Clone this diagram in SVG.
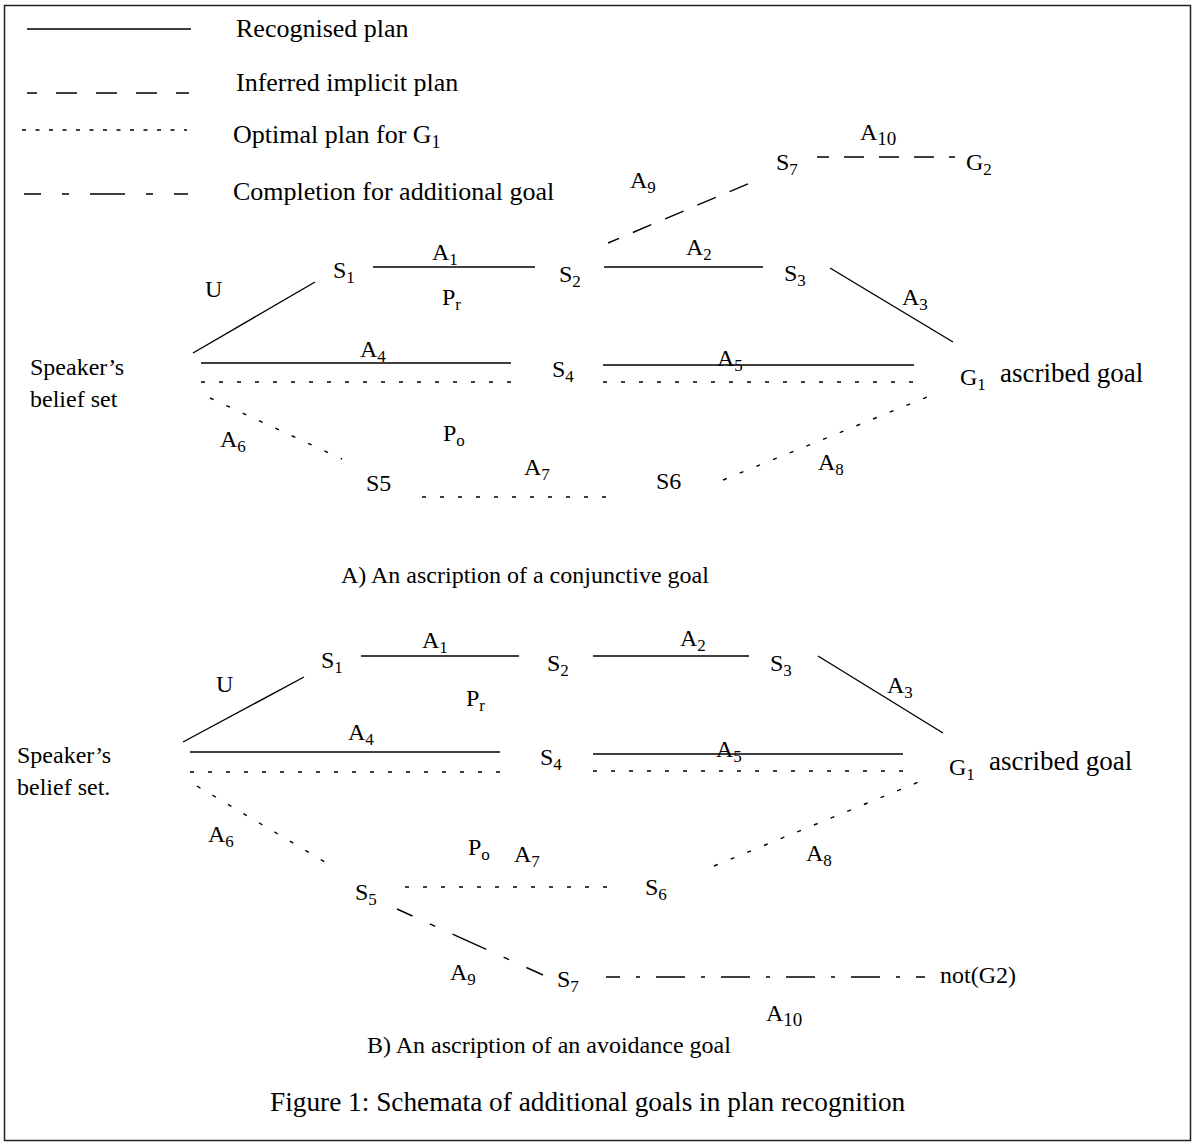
<svg xmlns="http://www.w3.org/2000/svg" width="1192" height="1146" viewBox="0 0 1192 1146">
<style>
.t{font-family:"Liberation Serif","Times New Roman",serif;font-size:24px;fill:#000}
.lg{font-size:26px}
.big{font-size:27px}
.s{font-size:17px}
.ln{stroke:#000;stroke-width:1.4;fill:none}
.dash{stroke-dasharray:20 15}
.dot{stroke-dasharray:4 14}
.dotl{stroke-dasharray:4 9.5}
</style>
<rect x="4.5" y="5.5" width="1186" height="1135" fill="#fff" stroke="#222" stroke-width="1.5"/>
<g id="legend">
<line class="ln" x1="27" y1="29" x2="191" y2="29"/>
<text class="t lg" x="236" y="37">Recognised plan</text>
<line class="ln" x1="27" y1="93" x2="189" y2="93" style="stroke-dasharray:21 19;stroke-dashoffset:11"/>
<text class="t lg" x="236" y="91">Inferred implicit plan</text>
<line class="ln dotl" x1="22" y1="130" x2="187" y2="130"/>
<text class="t lg" x="233" y="143">Optimal plan for G<tspan class="s" style="font-size:18px" dy="5">1</tspan></text>
<line class="ln" x1="24" y1="194" x2="188" y2="194" style="stroke-dasharray:35 21 7 21;stroke-dashoffset:18"/>
<text class="t lg" x="233" y="200">Completion for additional goal</text>
</g>
<g id="connectors">
<line class="ln dash" x1="608" y1="243" x2="757" y2="180" style="stroke-dashoffset:8"/>
<line class="ln dash" x1="817" y1="157" x2="955" y2="157" style="stroke-dashoffset:8"/>
<line class="ln" x1="373" y1="267" x2="535" y2="267"/>
<line class="ln" x1="604" y1="267" x2="763" y2="267"/>
<line class="ln" x1="830" y1="268" x2="953" y2="342"/>
<line class="ln" x1="193" y1="353" x2="315" y2="282"/>
<line class="ln" x1="201" y1="363" x2="511" y2="363"/>
<line class="ln dot" x1="201" y1="382" x2="513" y2="382"/>
<line class="ln" x1="603" y1="365" x2="914" y2="365"/>
<line class="ln dot" x1="603" y1="382" x2="914" y2="382"/>
<line class="ln dot" x1="210" y1="398" x2="342" y2="459"/>
<line class="ln dot" x1="422" y1="497" x2="616" y2="497"/>
<line class="ln dot" x1="723" y1="480" x2="937" y2="393"/>
<line class="ln" x1="361" y1="656" x2="519" y2="656"/>
<line class="ln" x1="593" y1="656" x2="749" y2="656"/>
<line class="ln" x1="818" y1="656" x2="943" y2="733"/>
<line class="ln" x1="183" y1="742" x2="304" y2="677"/>
<line class="ln" x1="190" y1="752" x2="500" y2="752"/>
<line class="ln dot" x1="190" y1="772" x2="500" y2="772"/>
<line class="ln" x1="593" y1="754" x2="903" y2="754"/>
<line class="ln dot" x1="593" y1="771" x2="903" y2="771"/>
<line class="ln dot" x1="197" y1="786" x2="330" y2="865"/>
<line class="ln dot" x1="405" y1="887" x2="607" y2="887"/>
<line class="ln dot" x1="714" y1="866" x2="926" y2="779"/>
<line class="ln" x1="397" y1="909" x2="543" y2="975" style="stroke-dasharray:37 19 6 19;stroke-dashoffset:20"/>
<line class="ln" x1="606" y1="977" x2="925" y2="977" style="stroke-dasharray:29 16 4 16;stroke-dashoffset:15"/>
</g>
<g id="edge-labels">
<text class="t" x="860" y="140">A<tspan class="s" style="font-size:19px" dy="5">10</tspan></text>
<text class="t" x="630" y="188">A<tspan class="s" dy="5">9</tspan></text>
<text class="t" x="432" y="260">A<tspan class="s" dy="5">1</tspan></text>
<text class="t" x="442" y="305">P<tspan class="s" dy="5">r</tspan></text>
<text class="t" x="686" y="255">A<tspan class="s" dy="5">2</tspan></text>
<text class="t" x="902" y="305">A<tspan class="s" dy="5">3</tspan></text>
<text class="t" x="205" y="297">U</text>
<text class="t" x="360" y="357">A<tspan class="s" dy="5">4</tspan></text>
<text class="t" x="717" y="366">A<tspan class="s" dy="5">5</tspan></text>
<text class="t" x="220" y="447">A<tspan class="s" dy="5">6</tspan></text>
<text class="t" x="443" y="441">P<tspan class="s" dy="5">o</tspan></text>
<text class="t" x="524" y="475">A<tspan class="s" dy="5">7</tspan></text>
<text class="t" x="818" y="470">A<tspan class="s" dy="5">8</tspan></text>
<text class="t" x="422" y="648">A<tspan class="s" dy="5">1</tspan></text>
<text class="t" x="680" y="646">A<tspan class="s" dy="5">2</tspan></text>
<text class="t" x="887" y="693">A<tspan class="s" dy="5">3</tspan></text>
<text class="t" x="216" y="692">U</text>
<text class="t" x="466" y="706">P<tspan class="s" dy="5">r</tspan></text>
<text class="t" x="348" y="740">A<tspan class="s" dy="5">4</tspan></text>
<text class="t" x="716" y="757">A<tspan class="s" dy="5">5</tspan></text>
<text class="t" x="208" y="842">A<tspan class="s" dy="5">6</tspan></text>
<text class="t" x="468" y="855">P<tspan class="s" dy="5">o</tspan></text>
<text class="t" x="514" y="862">A<tspan class="s" dy="5">7</tspan></text>
<text class="t" x="806" y="861">A<tspan class="s" dy="5">8</tspan></text>
<text class="t" x="450" y="980">A<tspan class="s" dy="5">9</tspan></text>
<text class="t" x="766" y="1021">A<tspan class="s" style="font-size:19px" dy="5">10</tspan></text>
</g>
<g id="a-S7"><text class="t" x="776" y="170">S<tspan class="s" dy="5">7</tspan></text></g>
<g id="a-G2"><text class="t" x="966" y="170">G<tspan class="s" dy="5">2</tspan></text></g>
<g id="a-S1"><text class="t" x="333" y="278">S<tspan class="s" dy="5">1</tspan></text></g>
<g id="a-S2"><text class="t" x="559" y="282">S<tspan class="s" dy="5">2</tspan></text></g>
<g id="a-S3"><text class="t" x="784" y="281">S<tspan class="s" dy="5">3</tspan></text></g>
<g id="a-belief"><text class="t" x="30" y="375">Speaker’s</text><text class="t" x="30" y="407">belief set</text></g>
<g id="a-S4"><text class="t" x="552" y="377">S<tspan class="s" dy="5">4</tspan></text></g>
<g id="a-G1"><text class="t" x="960" y="385">G<tspan class="s" dy="5">1</tspan></text><text class="t big" x="1000" y="382">ascribed goal</text></g>
<g id="a-S5"><text class="t" x="366" y="491">S5</text></g>
<g id="a-S6"><text class="t" x="656" y="489">S6</text></g>
<text class="t" x="341" y="583">A) An ascription of a conjunctive goal</text>
<g id="b-S1"><text class="t" x="321" y="668">S<tspan class="s" dy="5">1</tspan></text></g>
<g id="b-S2"><text class="t" x="547" y="671">S<tspan class="s" dy="5">2</tspan></text></g>
<g id="b-S3"><text class="t" x="770" y="671">S<tspan class="s" dy="5">3</tspan></text></g>
<g id="b-belief"><text class="t" x="17" y="763">Speaker’s</text><text class="t" x="17" y="795">belief set.</text></g>
<g id="b-S4"><text class="t" x="540" y="765">S<tspan class="s" dy="5">4</tspan></text></g>
<g id="b-G1"><text class="t" x="949" y="775">G<tspan class="s" dy="5">1</tspan></text><text class="t big" x="989" y="770">ascribed goal</text></g>
<g id="b-S5"><text class="t" x="355" y="900">S<tspan class="s" dy="5">5</tspan></text></g>
<g id="b-S6"><text class="t" x="645" y="895">S<tspan class="s" dy="5">6</tspan></text></g>
<g id="b-S7"><text class="t" x="557" y="987">S<tspan class="s" dy="5">7</tspan></text></g>
<g id="b-notG2"><text class="t" x="940" y="983">not(G2)</text></g>
<text class="t" x="367" y="1053">B) An ascription of an avoidance goal</text>
<text class="t" x="270" y="1111" style="font-size:27.3px">Figure 1: Schemata of additional goals in plan recognition</text>
</svg>
